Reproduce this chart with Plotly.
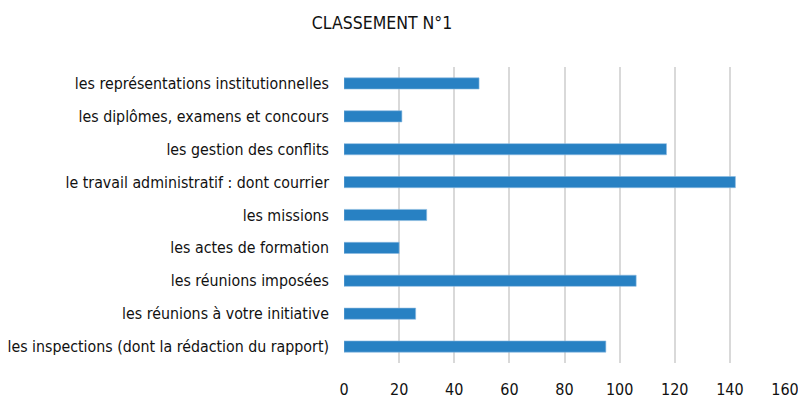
import plotly.graph_objects as go

categories = [
    "les représentations institutionnelles",
    "les diplômes, examens et concours",
    "les gestion des conflits",
    "le travail administratif : dont courrier",
    "les missions",
    "les actes de formation",
    "les réunions imposées",
    "les réunions à votre initiative",
    "les inspections (dont la rédaction du rapport)",
]
values = [49, 21, 117, 142, 30, 20, 106, 26, 95]
tick_vals = [0, 20, 40, 60, 80, 100, 120, 140, 160]

FONT = "DejaVu Sans Condensed, Liberation Sans Narrow, sans-serif"

fig = go.Figure(
    go.Bar(
        x=values,
        y=categories,
        orientation="h",
        width=0.34,
        marker=dict(color="#2881c3", line=dict(color="#8bbbe0", width=0.6)),
    )
)

# page body has an 8px default margin, so the figure is sized 798x400
fig.update_layout(
    width=798,
    height=400,
    margin=dict(l=335.5, r=20.7, t=58.5, b=45.4, autoexpand=False),
    paper_bgcolor="white",
    plot_bgcolor="white",
    showlegend=False,
    title=dict(
        text="CLASSEMENT N°1",
        x=0.4687,
        xref="container",
        y=0.9625,
        yref="container",
        xanchor="center",
        yanchor="middle",
        font=dict(family=FONT, size=17.5, color="#111111"),
    ),
    font=dict(family=FONT, size=16, color="#111111"),
    bargap=0.66,
)

fig.update_xaxes(
    range=[0, 160],
    tickvals=tick_vals,
    showgrid=True,
    gridcolor="#d9d9d9",
    gridwidth=1.5,
    zeroline=False,
    showline=False,
    ticks="",
    automargin=False,
    ticklabelstandoff=15,
    tickfont=dict(family=FONT, size=16, color="#111111"),
)
fig.update_yaxes(
    autorange="reversed",
    showgrid=False,
    zeroline=False,
    showline=False,
    ticks="",
    automargin=False,
    ticklabelstandoff=14,
    tickfont=dict(family=FONT, size=15.8, color="#111111"),
)

fig.write_html("out.html")
